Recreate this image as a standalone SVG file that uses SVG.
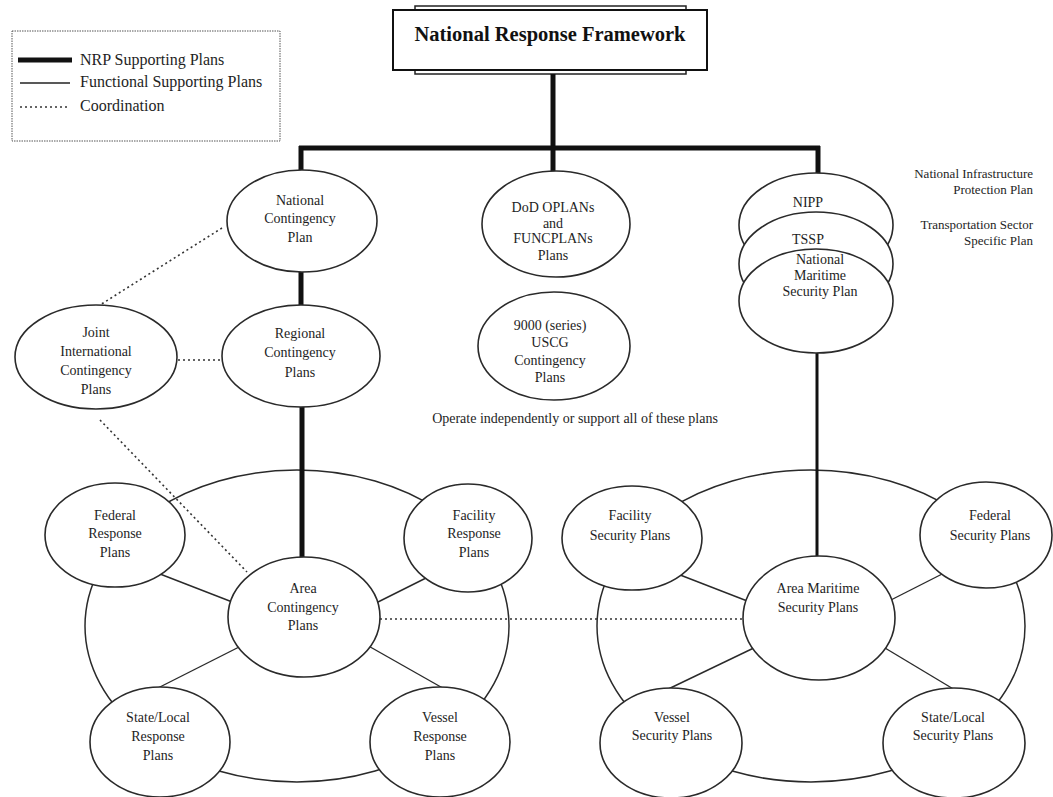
<svg xmlns="http://www.w3.org/2000/svg" width="1053" height="797" viewBox="0 0 1053 797">
<style>
  .bg{fill:#ffffff}
  .node{fill:#ffffff;stroke:#2a2a2a;stroke-width:1.6}
  .ring{fill:none;stroke:#2a2a2a;stroke-width:1.5}
  .t{font-family:"Liberation Serif","Times New Roman",serif;font-size:14px;fill:#1e1e1e;text-anchor:middle}
  .ts{font-family:"Liberation Serif","Times New Roman",serif;font-size:13px;fill:#1e1e1e;text-anchor:end}
  .lg{font-family:"Liberation Serif","Times New Roman",serif;font-size:16px;fill:#1e1e1e}
  .title{font-family:"Liberation Serif","Times New Roman",serif;font-size:20.5px;font-weight:bold;fill:#111;text-anchor:middle}
  .thick{stroke:#111;stroke-width:5;fill:none}
  .med{stroke:#111;stroke-width:3;fill:none}
  .thin{stroke:#2a2a2a;stroke-width:1.4;fill:none}
  .dot{stroke:#333;stroke-width:1.6;stroke-dasharray:2 3;fill:none}
</style>
<rect class="bg" x="0" y="0" width="1053" height="797"/>

<g id="legend">
  <rect x="12" y="31" width="268" height="110" fill="#fff" stroke="#555" stroke-width="1" stroke-dasharray="1.5 1"/>
  <line x1="18" y1="60" x2="72" y2="60" stroke="#111" stroke-width="5"/>
  <line x1="20" y1="83" x2="70" y2="83" stroke="#222" stroke-width="1.4"/>
  <line x1="20" y1="107" x2="70" y2="107" class="dot"/>
  <text class="lg" x="80" y="65">NRP Supporting Plans</text>
  <text class="lg" x="80" y="87">Functional Supporting Plans</text>
  <text class="lg" x="80" y="111">Coordination</text>
</g>

<g id="nrf">
  <rect x="415" y="6" width="271" height="68" fill="#fff" stroke="#222" stroke-width="1.5"/>
  <rect x="393" y="10" width="314" height="60" fill="#fff" stroke="#111" stroke-width="2"/>
  <text class="title" x="550" y="41">National Response Framework</text>
</g>

<g id="rings">
  <ellipse class="ring" cx="297" cy="626" rx="212" ry="156"/>
  <ellipse class="ring" cx="811" cy="626" rx="214" ry="156"/>
</g>

<g id="connectors">
  <line class="thick" x1="553" y1="74" x2="553" y2="172"/>
  <line class="thick" x1="299" y1="148" x2="820" y2="148"/>
  <line class="thick" x1="301" y1="146" x2="301" y2="170"/>
  <line class="thick" x1="818" y1="146" x2="818" y2="175"/>
  <line class="thick" x1="301" y1="268" x2="301" y2="308"/>
  <line class="thick" x1="302" y1="404" x2="302" y2="560"/>
  <line class="med" x1="817" y1="350" x2="817" y2="560"/>
  <line class="dot" x1="222" y1="228" x2="100" y2="305"/>
  <line class="dot" x1="178" y1="360" x2="223" y2="360"/>
  <line class="dot" x1="100" y1="420" x2="247" y2="572"/>
  <line class="dot" x1="380" y1="619" x2="744" y2="619"/>
  <line class="thin" x1="160" y1="574" x2="240" y2="605"/>
  <line class="thin" x1="370" y1="606" x2="440" y2="571"/>
  <line class="thin" x1="245" y1="644" x2="150" y2="692"/>
  <line class="thin" x1="365" y1="644" x2="455" y2="695"/>
  <line class="thin" x1="675" y1="573" x2="755" y2="604"/>
  <line class="thin" x1="885" y1="603" x2="950" y2="570"/>
  <line class="thin" x1="760" y1="645" x2="660" y2="693"/>
  <line class="thin" x1="880" y1="645" x2="960" y2="693"/>
</g>

<g id="national-contingency">
  <ellipse class="node" cx="302" cy="221" rx="75" ry="51"/>
  <text class="t" x="300" y="205">National</text>
  <text class="t" x="300" y="223">Contingency</text>
  <text class="t" x="300" y="242">Plan</text>
</g>
<g id="regional-contingency">
  <ellipse class="node" cx="301" cy="356" rx="79" ry="51"/>
  <text class="t" x="300" y="338">Regional</text>
  <text class="t" x="300" y="357">Contingency</text>
  <text class="t" x="300" y="377">Plans</text>
</g>
<g id="joint-international">
  <ellipse class="node" cx="96" cy="357" rx="81" ry="52"/>
  <text class="t" x="96" y="337">Joint</text>
  <text class="t" x="96" y="356">International</text>
  <text class="t" x="96" y="375">Contingency</text>
  <text class="t" x="96" y="394">Plans</text>
</g>
<g id="dod-plans">
  <ellipse class="node" cx="556" cy="224" rx="74" ry="53"/>
  <text class="t" x="553" y="212">DoD OPLANs</text>
  <text class="t" x="553" y="228">and</text>
  <text class="t" x="553" y="243">FUNCPLANs</text>
  <text class="t" x="553" y="260">Plans</text>
</g>
<g id="uscg-9000">
  <ellipse class="node" cx="554" cy="346" rx="76" ry="54"/>
  <text class="t" x="550" y="330">9000 (series)</text>
  <text class="t" x="550" y="347">USCG</text>
  <text class="t" x="550" y="365">Contingency</text>
  <text class="t" x="550" y="382">Plans</text>
</g>
<g id="operate-note">
  <text class="t" x="575" y="423">Operate independently or support all of these plans</text>
</g>
<g id="nipp">
  <ellipse class="node" cx="816" cy="225" rx="77" ry="52"/>
  <text class="t" x="808" y="207">NIPP</text>
</g>
<g id="tssp">
  <ellipse class="node" cx="816" cy="264" rx="77" ry="52"/>
  <text class="t" x="808" y="244">TSSP</text>
</g>
<g id="nmsp">
  <ellipse class="node" cx="816" cy="301" rx="77" ry="52"/>
  <text class="t" x="820" y="264">National</text>
  <text class="t" x="820" y="280">Maritime</text>
  <text class="t" x="820" y="296">Security Plan</text>
</g>
<g id="side-labels">
  <text class="ts" x="1033" y="178">National Infrastructure</text>
  <text class="ts" x="1033" y="194">Protection Plan</text>
  <text class="ts" x="1033" y="229">Transportation Sector</text>
  <text class="ts" x="1033" y="245">Specific Plan</text>
</g>

<g id="federal-response">
  <ellipse class="node" cx="115" cy="535" rx="70" ry="52"/>
  <text class="t" x="115" y="520">Federal</text>
  <text class="t" x="115" y="538">Response</text>
  <text class="t" x="115" y="557">Plans</text>
</g>
<g id="facility-response">
  <ellipse class="node" cx="468" cy="538" rx="64" ry="54"/>
  <text class="t" x="474" y="520">Facility</text>
  <text class="t" x="474" y="538">Response</text>
  <text class="t" x="474" y="557">Plans</text>
</g>
<g id="area-contingency">
  <ellipse class="node" cx="304" cy="617" rx="76" ry="60"/>
  <text class="t" x="303" y="593">Area</text>
  <text class="t" x="303" y="612">Contingency</text>
  <text class="t" x="303" y="630">Plans</text>
</g>
<g id="state-local-response">
  <ellipse class="node" cx="160" cy="742" rx="70" ry="55"/>
  <text class="t" x="158" y="722">State/Local</text>
  <text class="t" x="158" y="741">Response</text>
  <text class="t" x="158" y="760">Plans</text>
</g>
<g id="vessel-response">
  <ellipse class="node" cx="440" cy="742" rx="70" ry="55"/>
  <text class="t" x="440" y="722">Vessel</text>
  <text class="t" x="440" y="741">Response</text>
  <text class="t" x="440" y="760">Plans</text>
</g>

<g id="facility-security">
  <ellipse class="node" cx="632" cy="538" rx="70" ry="52"/>
  <text class="t" x="630" y="520">Facility</text>
  <text class="t" x="630" y="540">Security Plans</text>
</g>
<g id="federal-security">
  <ellipse class="node" cx="986" cy="535" rx="66" ry="53"/>
  <text class="t" x="990" y="520">Federal</text>
  <text class="t" x="990" y="540">Security Plans</text>
</g>
<g id="area-maritime">
  <ellipse class="node" cx="819" cy="618" rx="76" ry="62"/>
  <text class="t" x="818" y="593">Area Maritime</text>
  <text class="t" x="818" y="612">Security Plans</text>
</g>
<g id="vessel-security">
  <ellipse class="node" cx="671" cy="743" rx="71" ry="55"/>
  <text class="t" x="672" y="722">Vessel</text>
  <text class="t" x="672" y="740">Security Plans</text>
</g>
<g id="state-local-security">
  <ellipse class="node" cx="954" cy="743" rx="71" ry="55"/>
  <text class="t" x="953" y="722">State/Local</text>
  <text class="t" x="953" y="740">Security Plans</text>
</g>
</svg>
